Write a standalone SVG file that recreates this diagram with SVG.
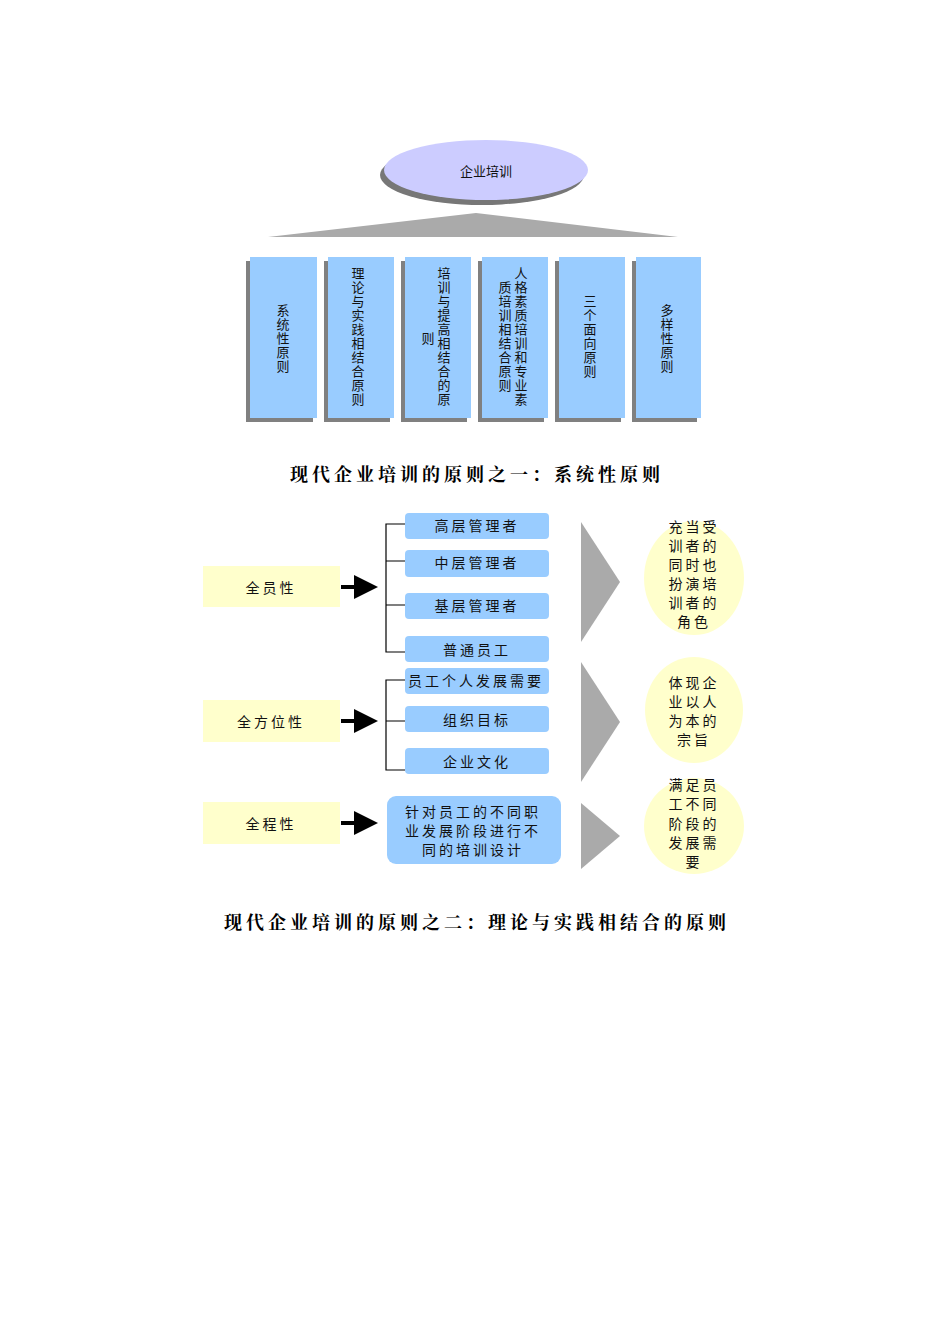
<svg xmlns="http://www.w3.org/2000/svg" width="950" height="1344" viewBox="0 0 950 1344">
<style>
.v{font-family:"Noto Sans CJK SC","Liberation Sans",sans-serif;font-size:13px;fill:#111;writing-mode:vertical-rl;letter-spacing:1px}
.e{font-family:"Noto Sans CJK SC","Liberation Sans",sans-serif;font-size:13px;fill:#111;text-anchor:middle}
.t{font-family:"Noto Sans CJK SC","Liberation Sans",sans-serif;font-size:14px;fill:#111;text-anchor:middle;letter-spacing:3px}
.cap{font-family:"Noto Serif CJK SC","Liberation Serif","Noto Sans CJK SC",serif;font-size:18px;font-weight:bold;fill:#000;text-anchor:middle;letter-spacing:4px}
.col{fill:#99ccff}
.sh{fill:#808080}
.lb{fill:#99ccff}
.yb{fill:#ffffcc}
.tri{fill:#aaaaaa}
.ln{stroke:#000;stroke-width:1.2;fill:none}
</style>
<defs>
<marker id="ah" markerWidth="6" markerHeight="6" refX="5" refY="3" orient="auto"><path d="M0,0L6,3L0,6z" fill="#000"/></marker>
</defs>
<rect width="950" height="1344" fill="#fff"/>
<g id="root">
<ellipse cx="482" cy="175" rx="102" ry="30" fill="#777"/>
<ellipse cx="486" cy="170" rx="102" ry="30" fill="#ccccff"/>
<text class="e" x="486" y="176">企业培训</text>
</g>
<g id="roof"><polygon points="268,237 476,213 678,237" class="tri"/></g>
<g id="c1"><rect x="246" y="261" width="67" height="161" class="sh"/><rect x="250" y="257" width="67" height="161" class="col"/>
<text class="v" x="283" y="304">系统性原则</text></g>
<g id="c2"><rect x="324" y="261" width="66" height="161" class="sh"/><rect x="328" y="257" width="66" height="161" class="col"/>
<text class="v" x="358" y="267">理论与实践相结合原则</text></g>
<g id="c3"><rect x="401" y="261" width="66" height="161" class="sh"/><rect x="405" y="257" width="66" height="161" class="col"/>
<text class="v" x="444" y="267">培训与提高相结合的原</text><text class="v" x="428" y="332">则</text></g>
<g id="c4"><rect x="478" y="261" width="66" height="161" class="sh"/><rect x="482" y="257" width="66" height="161" class="col"/>
<text class="v" x="521" y="267">人格素质培训和专业素</text><text class="v" x="505" y="281">质培训相结合原则</text></g>
<g id="c5"><rect x="555" y="261" width="66" height="161" class="sh"/><rect x="559" y="257" width="66" height="161" class="col"/>
<text class="v" x="590" y="295">三个面向原则</text></g>
<g id="c6"><rect x="632" y="261" width="65" height="161" class="sh"/><rect x="636" y="257" width="65" height="161" class="col"/>
<text class="v" x="667" y="304">多样性原则</text></g>
<text class="cap" x="477" y="481">现代企业培训的原则之一：系统性原则</text>

<g id="connectors">
<path class="ln" d="M405,524H386V652H405M386,561H405M386,605H405"/>
<path class="ln" d="M405,680H386V770H405M386,721H405"/>
<g stroke="#000" stroke-width="4" marker-end="url(#ah)">
<line x1="341" y1="587" x2="374" y2="587"/>
<line x1="341" y1="721" x2="374" y2="721"/>
<line x1="341" y1="823" x2="374" y2="823"/>
</g>
</g>
<g id="y1"><rect x="203" y="566" width="137" height="41" class="yb"/><text class="t" x="271" y="593">全员性</text></g>
<g id="y2"><rect x="203" y="700" width="137" height="42" class="yb"/><text class="t" x="271" y="727">全方位性</text></g>
<g id="y3"><rect x="203" y="802" width="137" height="42" class="yb"/><text class="t" x="271" y="829">全程性</text></g>
<g id="b1"><rect x="405" y="513" width="144" height="26" rx="4" class="lb"/><text class="t" x="477" y="531">高层管理者</text></g>
<g id="b2"><rect x="405" y="550" width="144" height="27" rx="4" class="lb"/><text class="t" x="477" y="568">中层管理者</text></g>
<g id="b3"><rect x="405" y="593" width="144" height="26" rx="4" class="lb"/><text class="t" x="477" y="611">基层管理者</text></g>
<g id="b4"><rect x="405" y="636" width="144" height="26" rx="4" class="lb"/><text class="t" x="477" y="655">普通员工</text></g>
<g id="b5"><rect x="405" y="668" width="144" height="26" rx="4" class="lb"/><text class="t" x="476" y="686">员工个人发展需要</text></g>
<g id="b6"><rect x="405" y="706" width="144" height="26" rx="4" class="lb"/><text class="t" x="477" y="725">组织目标</text></g>
<g id="b7"><rect x="405" y="748" width="144" height="26" rx="4" class="lb"/><text class="t" x="477" y="767">企业文化</text></g>
<g id="b8"><rect x="387" y="796" width="174" height="68" rx="9" class="lb"/>
<text class="t"><tspan x="473" y="817">针对员工的不同职</tspan><tspan x="473" y="836">业发展阶段进行不</tspan><tspan x="473" y="855">同的培训设计</tspan></text></g>
<g id="tris">
<polygon points="581,522 620,582 581,642" class="tri"/>
<polygon points="581,662 620,722 581,782" class="tri"/>
<polygon points="581,803 620,836 581,869" class="tri"/>
</g>
<g id="e1"><ellipse cx="694" cy="578" rx="50" ry="57" class="yb"/>
<text class="t"><tspan x="694" y="532">充当受</tspan><tspan x="694" y="551">训者的</tspan><tspan x="694" y="570">同时也</tspan><tspan x="694" y="589">扮演培</tspan><tspan x="694" y="608">训者的</tspan><tspan x="694" y="627">角色</tspan></text></g>
<g id="e2"><ellipse cx="694" cy="710" rx="49" ry="53" class="yb"/>
<text class="t"><tspan x="694" y="688">体现企</tspan><tspan x="694" y="707">业以人</tspan><tspan x="694" y="726">为本的</tspan><tspan x="694" y="745">宗旨</tspan></text></g>
<g id="e3"><ellipse cx="694" cy="826" rx="50" ry="48" class="yb"/>
<text class="t"><tspan x="694" y="790">满足员</tspan><tspan x="694" y="809">工不同</tspan><tspan x="694" y="829">阶段的</tspan><tspan x="694" y="848">发展需</tspan><tspan x="694" y="867">要</tspan></text></g>
<text class="cap" x="477" y="929">现代企业培训的原则之二：理论与实践相结合的原则</text>
</svg>
